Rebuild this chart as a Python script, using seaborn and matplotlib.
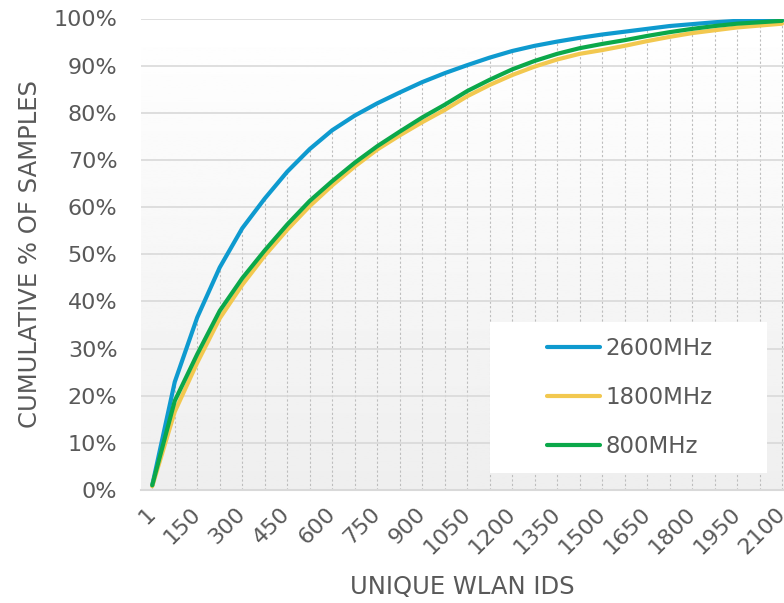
import numpy as np
import pandas as pd
import matplotlib
matplotlib.use("Agg")
import matplotlib.pyplot as plt
import seaborn as sns
from matplotlib.patches import Rectangle

# categories on the x axis (every other one gets a label)
categories = [1, 75, 150, 225, 300, 375, 450, 525, 600, 675, 750, 825, 900, 975,
              1050, 1125, 1200, 1275, 1350, 1425, 1500, 1575, 1650, 1725, 1800,
              1875, 1950, 2025, 2100]

# cumulative % of samples
mhz2600 = [1.0, 22.9, 36.6, 47.2, 55.5, 61.8, 67.5, 72.3, 76.3, 79.4, 82.0, 84.3,
           86.5, 88.4, 90.1, 91.7, 93.1, 94.2, 95.1, 95.9, 96.6, 97.2, 97.8, 98.4,
           98.8, 99.2, 99.5, 99.7, 99.8]
mhz1800 = [0.8, 16.6, 27.0, 36.4, 43.5, 49.7, 55.2, 60.2, 64.6, 68.6, 72.2, 75.2,
           78.0, 80.6, 83.5, 85.9, 88.0, 89.8, 91.3, 92.5, 93.3, 94.2, 95.2, 96.1,
           96.9, 97.5, 98.1, 98.5, 98.9]
mhz800 = [1.0, 18.9, 28.8, 38.0, 44.9, 50.8, 56.3, 61.3, 65.5, 69.4, 72.9, 76.0,
          79.0, 81.7, 84.6, 87.0, 89.2, 91.0, 92.5, 93.7, 94.6, 95.4, 96.3, 97.1,
          97.8, 98.4, 98.9, 99.2, 99.5]

series_names = ["2600MHz", "1800MHz", "800MHz"]
colors = ["#0E9ACF", "#F2C84F", "#0BA84A"]
text_color = "#595959"

pos = np.arange(len(categories))
df = pd.DataFrame({
    "pos": np.tile(pos, 3),
    "value": mhz2600 + mhz1800 + mhz800,
    "series": np.repeat(series_names, len(categories)),
})

sns.set_style("white")
plt.rcParams["font.family"] = ["DejaVu Sans"]

fig = plt.figure(figsize=(7.84, 6.03), dpi=100)
ax = fig.add_axes([141 / 784, 1 - 490 / 603, 1 - 141 / 784, (490 - 18.5) / 603])

# soft vertical gradient background
grad = np.linspace(1.0, 0.935, 256).reshape(-1, 1)
ax.imshow(grad, cmap="gray", vmin=0, vmax=1, aspect="auto",
          extent=[0, 1, 0, 1], transform=ax.transAxes, zorder=0)

# drop lines from the highest series to the axis
top = np.max([mhz2600, mhz1800, mhz800], axis=0)
ax.vlines(pos, 0, top, colors="#BDBDBD", linestyles=(0, (2, 2)), linewidth=0.8, zorder=1)

for y in range(10, 101, 10):
    ax.axhline(y, color="#D9D9D9", linewidth=1.2, zorder=1)

sns.lineplot(data=df, x="pos", y="value", hue="series", hue_order=series_names,
             palette=colors, linewidth=3, ax=ax, zorder=3, legend=False)

ax.set_xlim(-0.5, (784 - 152) / 22.5)
ax.set_ylim(0, 100)
ax.set_yticks(range(0, 101, 10))
ax.set_yticklabels([f"{v}%" for v in range(0, 101, 10)])
ax.set_xticks(pos[::2])
ax.set_xticklabels([str(c) for c in categories[::2]], rotation=45, ha="right",
                   va="center", rotation_mode="anchor")
ax.tick_params(axis="y", length=0, pad=17, labelsize=16, labelcolor=text_color)
ax.tick_params(axis="x", length=0, pad=15, labelsize=16, labelcolor=text_color)

for s in ["top", "right", "left"]:
    ax.spines[s].set_visible(False)
ax.spines["bottom"].set_color("#D9D9D9")
ax.spines["bottom"].set_linewidth(1.5)
ax.spines["bottom"].set_zorder(2)

ax.set_xlabel("UNIQUE WLAN IDS", fontsize=17.5, color=text_color, labelpad=12)
ax.set_ylabel("CUMULATIVE % OF SAMPLES", fontsize=17.5, color=text_color, labelpad=8)

# legend on a white box
ax.add_patch(Rectangle((0.543, 0.036), 0.431, 0.32, transform=ax.transAxes,
                       facecolor="white", edgecolor="none", zorder=4))
handles = [plt.Line2D([], [], color=c, linewidth=3) for c in colors]
leg = ax.legend(handles, series_names, loc="center left",
                bbox_to_anchor=(0.6, 0.196), frameon=False, fontsize=16.5,
                handlelength=2.3, handletextpad=0.25, labelspacing=1.15)
for t in leg.get_texts():
    t.set_color(text_color)
leg.set_zorder(5)

fig.savefig("out.png", dpi=100)
